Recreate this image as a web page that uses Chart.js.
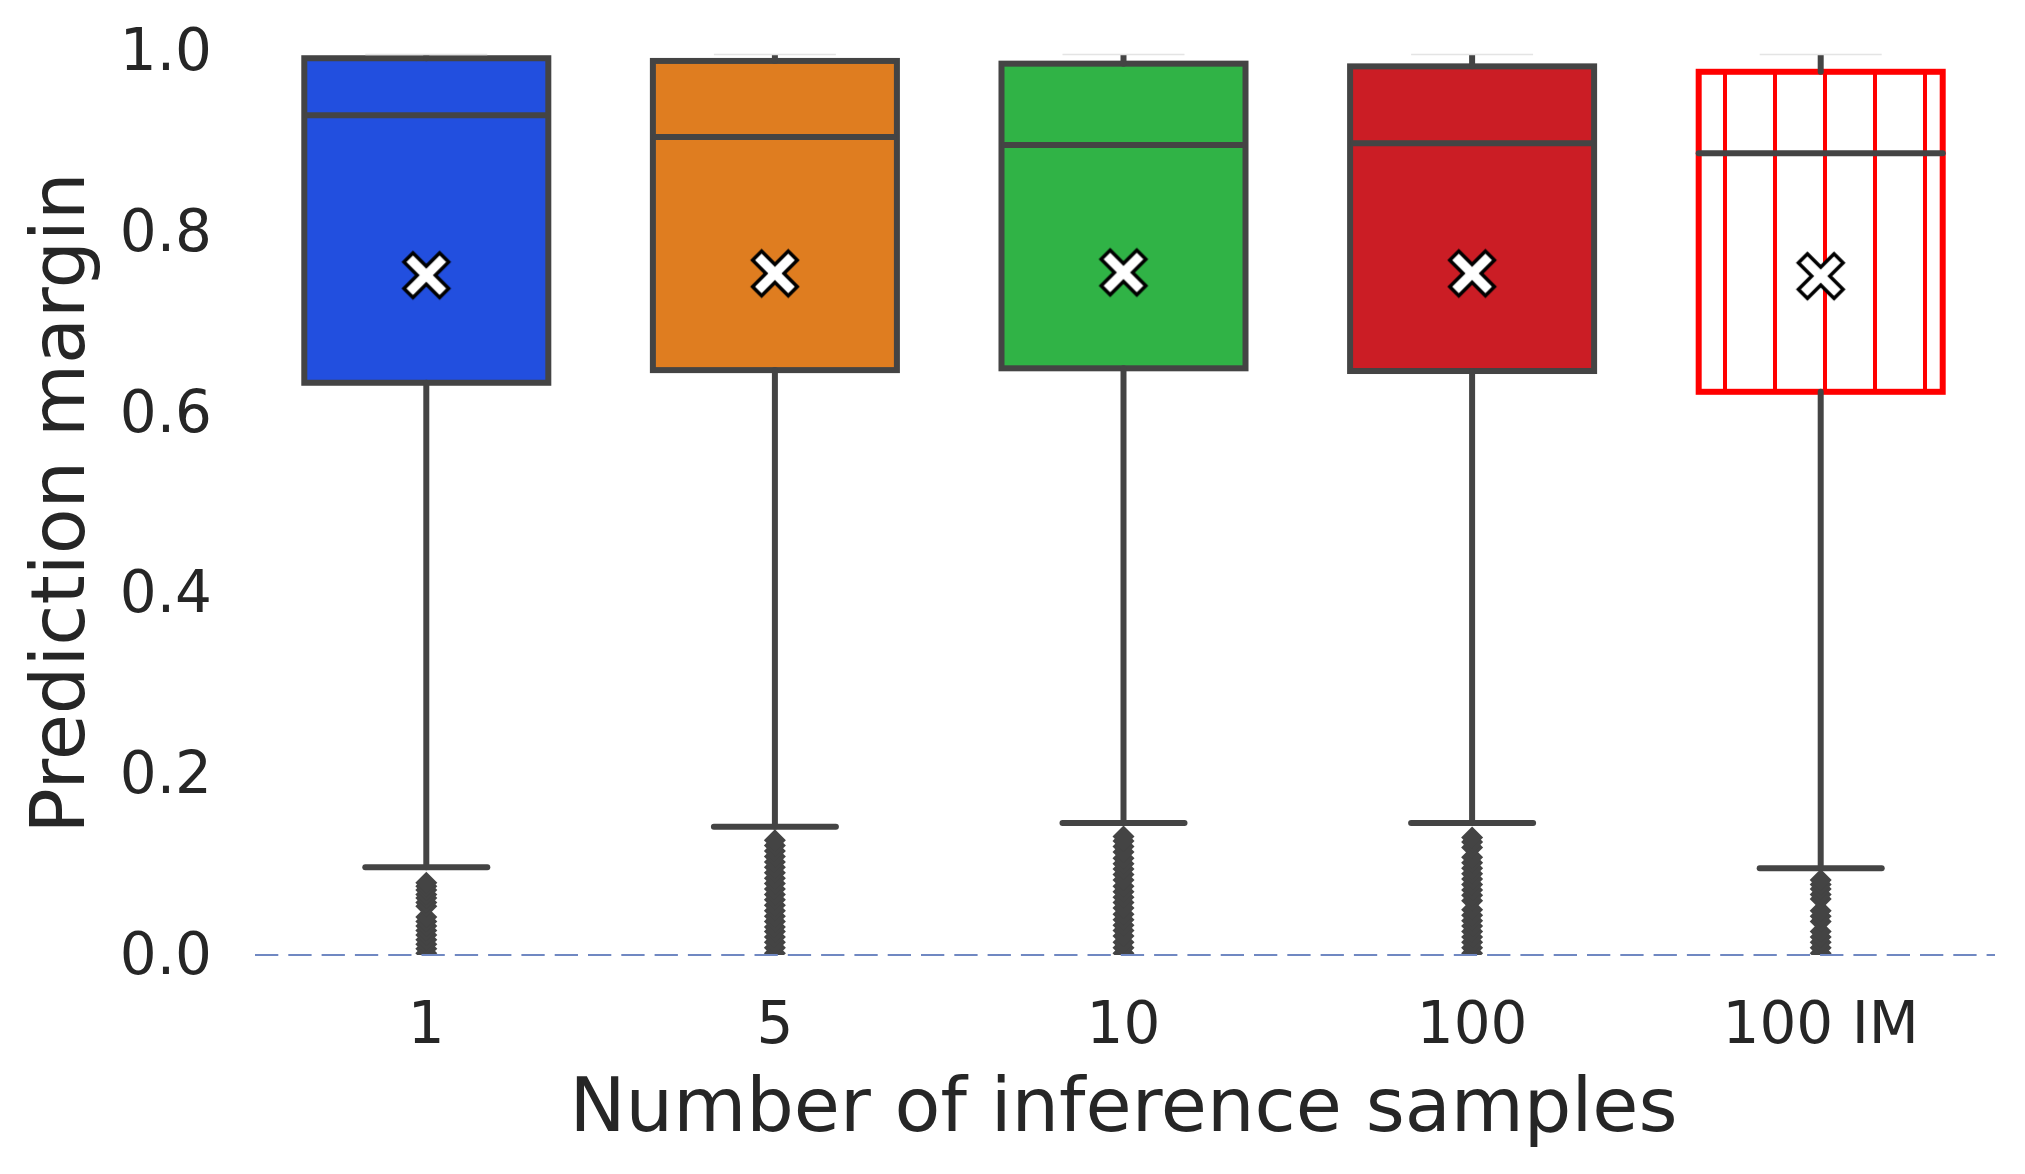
<!DOCTYPE html>
<html>
<head>
<meta charset="utf-8">
<script src="https://cdn.jsdelivr.net/npm/chart.js@4.4.1/dist/chart.umd.min.js"></script>
<style>
html,body{margin:0;padding:0;background:#ffffff;}
#wrap{width:2025px;height:1174px;}
</style>
</head>
<body>
<div id="wrap"><canvas id="c" width="2025" height="1174"></canvas></div>
<script>
// ---- data ----
const categories = ['1', '5', '10', '100', '100 IM'];
const q1 = [0.633, 0.647, 0.649, 0.646, 0.623];
const median = [0.929, 0.905, 0.896, 0.898, 0.887];
const q3 = [0.992, 0.989, 0.986, 0.983, 0.977];
const whiskerLow = [0.097, 0.142, 0.146, 0.146, 0.096];
const whiskerHigh = [1.0, 1.0, 1.0, 1.0, 1.0];
const means = [0.752, 0.754, 0.755, 0.754, 0.751];
const outliers1 = [0.002, 0.007, 0.012, 0.017, 0.022, 0.027, 0.032, 0.037, 0.042, 0.054, 0.058, 0.063, 0.067, 0.072, 0.076, 0.080];
const outliers5 = [0.002, 0.008, 0.014, 0.020, 0.026, 0.031, 0.037, 0.043, 0.049, 0.055, 0.061, 0.067, 0.073, 0.079, 0.085, 0.091, 0.097, 0.103, 0.109, 0.115, 0.121, 0.127];
const outliers10 = [0.002, 0.008, 0.014, 0.021, 0.027, 0.033, 0.039, 0.045, 0.052, 0.058, 0.064, 0.070, 0.076, 0.083, 0.089, 0.095, 0.101, 0.107, 0.114, 0.120, 0.126, 0.131];
const outliers100 = [0.002, 0.008, 0.014, 0.020, 0.026, 0.032, 0.038, 0.044, 0.050, 0.060, 0.066, 0.072, 0.078, 0.084, 0.090, 0.096, 0.102, 0.108, 0.119, 0.125, 0.130];
const outliers100IM = [0.002, 0.008, 0.014, 0.020, 0.026, 0.037, 0.043, 0.049, 0.062, 0.067, 0.073, 0.078, 0.083];
const yTicks = [0.0, 0.2, 0.4, 0.6, 0.8, 1.0];
const xTitle = 'Number of inference samples';
const yTitle = 'Prediction margin';

// ---- styles ----
const fillColors = ['#224fdf', '#df7d20', '#30b346', '#cb1d25'];
const GRAY = '#444444';
const TEXT = '#262626';
const FONT = 'DejaVu Sans';
const BOX_INDEX = 2;

const canvas = document.getElementById('c');
const ctx0 = canvas.getContext('2d');

// hatch pattern for the last box (white with red vertical lines)
const hc = document.createElement('canvas');
hc.width = 50; hc.height = 50;
const hctx = hc.getContext('2d');
hctx.fillStyle = '#ffffff'; hctx.fillRect(0, 0, 50, 50);
hctx.fillStyle = '#ff0000'; hctx.fillRect(23, 0, 4, 50);
const hatch = ctx0.createPattern(hc, 'repeat');

// filled X marker for the means
const mc = document.createElement('canvas');
mc.width = 56; mc.height = 56;
(function () {
  const c = mc.getContext('2d');
  const L = 25.2, w = 6.4;
  c.translate(28, 28);
  c.rotate(Math.PI / 4);
  c.beginPath();
  c.moveTo(-w, -L); c.lineTo(w, -L); c.lineTo(w, -w); c.lineTo(L, -w); c.lineTo(L, w);
  c.lineTo(w, w); c.lineTo(w, L); c.lineTo(-w, L); c.lineTo(-w, w); c.lineTo(-L, w);
  c.lineTo(-L, -w); c.lineTo(-w, -w); c.closePath();
  c.fillStyle = '#ffffff'; c.fill();
  c.lineWidth = 3.5; c.lineJoin = 'miter'; c.strokeStyle = '#000000'; c.stroke();
})();

function pts(cat, arr) { return arr.map(v => ({x: cat, y: v})); }
const outlierPoints = [].concat(
  pts(categories[0], outliers1), pts(categories[1], outliers5), pts(categories[2], outliers10),
  pts(categories[3], outliers100), pts(categories[4], outliers100IM));

const boxPlugin = {
  id: 'boxParts',
  afterDatasetDraw(chart, args) {
    if (args.index !== BOX_INDEX) return;
    const ctx = chart.ctx, ys = chart.scales.y, area = chart.chartArea;
    const meta = chart.getDatasetMeta(BOX_INDEX);
    const line = (x1, y1, x2, y2) => { ctx.beginPath(); ctx.moveTo(x1, y1); ctx.lineTo(x2, y2); ctx.stroke(); };
    ctx.save();
    ctx.beginPath();
    ctx.rect(area.left - 40, area.top + 4, area.right - area.left + 80, area.bottom - area.top + 40);
    ctx.clip();
    meta.data.forEach((bar, i) => {
      const p = bar.getProps(['x', 'width'], true);
      const x = p.x, width = p.width, half = width / 2;
      const yQ1 = ys.getPixelForValue(q1[i]);
      const yQ3 = ys.getPixelForValue(q3[i]);
      const yMed = ys.getPixelForValue(median[i]);
      const yLo = ys.getPixelForValue(whiskerLow[i]);
      const yHi = ys.getPixelForValue(whiskerHigh[i]);
      ctx.lineWidth = 6;
      ctx.lineJoin = 'miter';
      ctx.lineCap = 'butt';
      ctx.strokeStyle = i === 4 ? '#ff0000' : GRAY;
      ctx.strokeRect(x - half, yQ3, width, yQ1 - yQ3);
      ctx.strokeStyle = GRAY;
      ctx.lineCap = 'round';
      line(x, yQ1, x, yLo);
      line(x, yQ3, x, yHi);
      line(x - half / 2, yLo, x + half / 2, yLo);
      line(x - half / 2, yHi, x + half / 2, yHi);
      ctx.lineCap = i === 4 ? 'round' : 'butt';
      line(x - half, yMed, x + half, yMed);
    });
    ctx.restore();
    // faint remains of the clipped upper caps
    ctx.save();
    ctx.strokeStyle = '#e4e4e4';
    ctx.lineWidth = 1.5;
    meta.data.forEach((bar) => {
      const p = bar.getProps(['x', 'width'], true);
      ctx.beginPath();
      ctx.moveTo(p.x - p.width / 4, area.top + 3.5);
      ctx.lineTo(p.x + p.width / 4, area.top + 3.5);
      ctx.stroke();
    });
    ctx.restore();
  },
  afterDatasetsDraw(chart) {
    const ctx = chart.ctx, ys = chart.scales.y, area = chart.chartArea;
    const y0 = ys.getPixelForValue(0);
    ctx.save();
    ctx.strokeStyle = '#7088c2';
    ctx.lineWidth = 2;
    ctx.setLineDash([23.3, 10]);
    ctx.beginPath();
    ctx.moveTo(area.left + 3, y0);
    ctx.lineTo(area.right, y0);
    ctx.stroke();
    ctx.restore();
  }
};

new Chart(canvas, {
  type: 'bar',
  data: {
    labels: categories,
    datasets: [
      {
        type: 'line',
        label: 'mean',
        data: categories.map((c, i) => ({x: c, y: means[i]})),
        showLine: false,
        pointStyle: mc,
        pointRadius: 24,
        pointHoverRadius: 24,
        order: 1,
        clip: false
      },
      {
        type: 'line',
        label: 'outliers',
        data: outlierPoints,
        showLine: false,
        pointStyle: 'rectRot',
        pointRadius: 11,
        pointHoverRadius: 11,
        pointBackgroundColor: GRAY,
        pointBorderColor: GRAY,
        pointBorderWidth: 0,
        order: 2,
        clip: 0
      },
      {
        type: 'bar',
        label: 'box',
        data: categories.map((c, i) => [q1[i], q3[i]]),
        backgroundColor: fillColors.concat([hatch]),
        borderWidth: 0,
        barPercentage: 0.7,
        categoryPercentage: 1.0,
        order: 3
      }
    ]
  },
  options: {
    responsive: false,
    devicePixelRatio: 1,
    animation: false,
    events: [],
    layout: {padding: {top: 51, right: 30, bottom: 0, left: 0}},
    plugins: {legend: {display: false}, tooltip: {enabled: false}},
    scales: {
      x: {
        type: 'category',
        offset: true,
        grid: {display: false, drawTicks: false},
        border: {display: false},
        ticks: {color: TEXT, font: {family: FONT, size: 58}, padding: 38, maxRotation: 0},
        title: {display: true, text: xTitle, color: TEXT, font: {family: FONT, size: 75}, padding: {top: 0, bottom: 17}},
        afterFit: s => { s.height = 219; }
      },
      y: {
        type: 'linear',
        min: 0,
        max: 1,
        grid: {display: false, drawTicks: false},
        border: {display: false},
        afterBuildTicks: s => { s.ticks = yTicks.map(v => ({value: v})); },
        ticks: {color: TEXT, font: {family: FONT, size: 58, lineHeight: 0.2}, padding: 40, labelOffset: 4, callback: v => Number(v).toFixed(1)},
        title: {display: true, text: yTitle, color: TEXT, font: {family: FONT, size: 75}, padding: {top: 20, bottom: 0}},
        afterFit: s => { s.width = 252; }
      }
    }
  },
  plugins: [boxPlugin]
});
</script>
</body>
</html>
